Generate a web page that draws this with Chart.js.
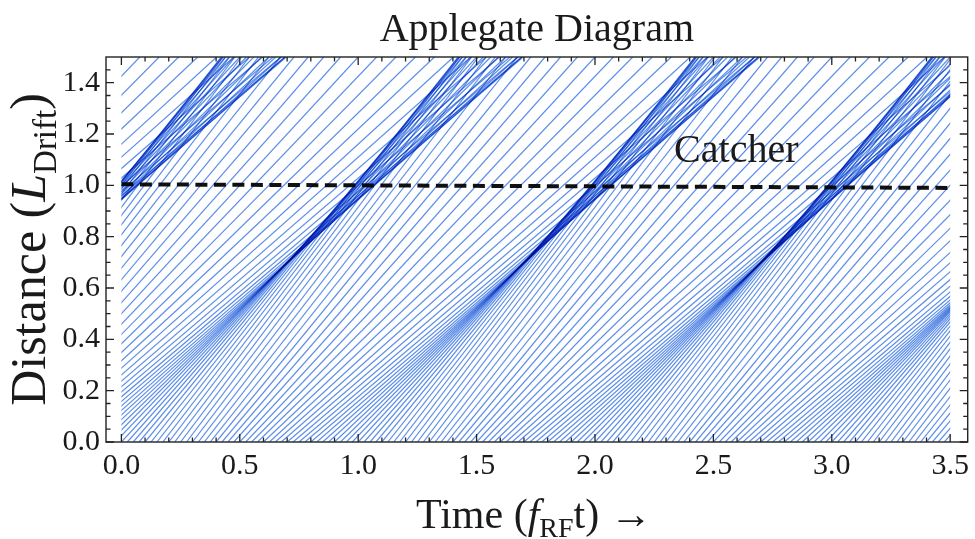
<!DOCTYPE html>
<html>
<head>
<meta charset="utf-8">
<title>Applegate Diagram</title>
<script src="https://cdn.jsdelivr.net/npm/chart.js@4.4.1/dist/chart.umd.min.js"></script>
<style>
    html, body { margin: 0; padding: 0; background: #fff; }
    #wrap { width: 975px; height: 539px; }
</style>
</head>
<body>
<div id="wrap"><canvas id="chart" width="975" height="539"></canvas></div>
<script>
// Launch phase of each electron inside one RF period (fraction of a cycle)
const launchPhase = [
    0.000, 0.025, 0.050, 0.075, 0.100, 0.125, 0.150, 0.175, 0.200, 0.225,
    0.250, 0.275, 0.300, 0.325, 0.350, 0.375, 0.400, 0.425, 0.450, 0.475,
    0.500, 0.525, 0.550, 0.575, 0.600, 0.625, 0.650, 0.675, 0.700, 0.725,
    0.750, 0.775, 0.800, 0.825, 0.850, 0.875, 0.900, 0.925, 0.950, 0.975
];
// Drift velocity after the buncher gap, in L_Drift per RF period
const driftVelocity = [
    1.000, 1.034, 1.068, 1.100, 1.129, 1.156, 1.178, 1.196, 1.209, 1.217,
    1.220, 1.217, 1.209, 1.196, 1.178, 1.156, 1.129, 1.100, 1.068, 1.034,
    1.000, 0.966, 0.932, 0.900, 0.871, 0.844, 0.822, 0.804, 0.791, 0.783,
    0.780, 0.783, 0.791, 0.804, 0.822, 0.844, 0.871, 0.900, 0.932, 0.966
];
// RF cycles whose electrons show up inside the time window
const rfCycles = [-2, -1, 0, 1, 2, 3];
const timeWindow = [0, 3.5];

// Catcher position (dashed line)
const catcherTimes = [0.0, 3.5];
const catcherHeights = [1.004, 0.990];

const xTickValues = [0, 0.5, 1.0, 1.5, 2.0, 2.5, 3.0, 3.5];
const yTickValues = [0, 0.2, 0.4, 0.6, 0.8, 1.0, 1.2, 1.4];
const xMinorStep = 0.1;
const yMinorStep = 0.05;

const serif = "'Liberation Serif', 'Times New Roman', serif";
const zTop = 1.5;

const datasets = [{
    label: 'Catcher',
    data: catcherTimes.map((t, i) => ({ x: t, y: catcherHeights[i] })),
    showLine: true,
    borderColor: '#111',
    borderWidth: 4,
    borderDash: [12, 6.5],
    pointRadius: 0,
    order: 0
}];

rfCycles.forEach(cycle => {
    launchPhase.forEach((phase, i) => {
        const t0 = cycle + phase;
        if (t0 > timeWindow[1]) return;
        const v = driftVelocity[i];
        datasets.push({
            data: [{ x: t0, y: 0 }, { x: t0 + zTop / v, y: zTop }],
            showLine: true,
            borderColor: 'rgb(92, 142, 232)',
            borderWidth: 1.2,
            pointRadius: 0,
            order: 1
        });
    });
});

// white paper, and overlapping trajectories darken each other
const blendPlugin = {
    id: 'blendPlugin',
    beforeDraw(chart) {
        const ctx = chart.ctx;
        ctx.save();
        ctx.fillStyle = '#fff';
        ctx.fillRect(0, 0, chart.width, chart.height);
        ctx.restore();
    },
    beforeDatasetsDraw(chart) {
        const { ctx, chartArea, scales } = chart;
        const left = scales.x.getPixelForValue(timeWindow[0]);
        const right = scales.x.getPixelForValue(timeWindow[1]);
        ctx.save();
        ctx.beginPath();
        ctx.rect(left, chartArea.top, right - left, chartArea.bottom - chartArea.top);
        ctx.clip();
        ctx.globalCompositeOperation = 'multiply';
    },
    afterDatasetsDraw(chart) {
        chart.ctx.restore();
    }
};

// Mathematica-like frame with inward ticks on all four sides
const framePlugin = {
    id: 'framePlugin',
    afterDraw(chart) {
        const { ctx, chartArea: a, scales: { x, y } } = chart;
        ctx.save();
        ctx.strokeStyle = '#222';
        ctx.lineWidth = 1.4;
        ctx.strokeRect(a.left, a.top, a.right - a.left, a.bottom - a.top);

        ctx.lineWidth = 1.3;
        ctx.beginPath();
        const nx = Math.round(xTickValues[xTickValues.length - 1] / xMinorStep);
        for (let i = 0; i <= nx; i++) {
            const v = i * xMinorStep;
            const len = i % 5 === 0 ? 8 : 4.5;
            const px = x.getPixelForValue(v);
            ctx.moveTo(px, a.bottom);
            ctx.lineTo(px, a.bottom - len);
            ctx.moveTo(px, a.top);
            ctx.lineTo(px, a.top + len);
        }
        const ny = Math.round(zTop / yMinorStep);
        for (let i = 0; i < ny; i++) {
            const v = i * yMinorStep;
            const len = i % 4 === 0 ? 8 : 4.5;
            const py = y.getPixelForValue(v);
            ctx.moveTo(a.left, py);
            ctx.lineTo(a.left + len, py);
            ctx.moveTo(a.right, py);
            ctx.lineTo(a.right - len, py);
        }
        ctx.stroke();
        ctx.restore();
    }
};

function fontFor(part, size) {
    const s = part.sub ? Math.round(size * 0.66) : size;
    return (part.italic ? 'italic ' : '') + s + 'px ' + serif;
}

function drawRichText(ctx, parts, size, cx, baseline) {
    let total = 0;
    parts.forEach(p => {
        ctx.font = fontFor(p, size);
        total += ctx.measureText(p.text).width;
    });
    let cursor = cx - total / 2;
    parts.forEach(p => {
        ctx.font = fontFor(p, size);
        ctx.fillText(p.text, cursor, baseline + (p.sub ? size * 0.22 : 0));
        cursor += ctx.measureText(p.text).width;
    });
}

const textPlugin = {
    id: 'textPlugin',
    afterDraw(chart) {
        const { ctx, chartArea: a, scales: { x, y } } = chart;
        const cx = (a.left + a.right) / 2;
        ctx.save();
        ctx.fillStyle = '#1a1a1a';
        ctx.textAlign = 'left';
        ctx.textBaseline = 'alphabetic';

        drawRichText(ctx, [{ text: 'Applegate Diagram' }], 40, cx, 41);

        drawRichText(ctx, [
            { text: 'Time (' },
            { text: 'f', italic: true },
            { text: 'RF', sub: true },
            { text: 't) \u2192' }
        ], 42, cx - 3, 528);

        ctx.save();
        ctx.translate(45, (a.top + a.bottom) / 2);
        ctx.rotate(-Math.PI / 2);
        drawRichText(ctx, [
            { text: 'Distance (' },
            { text: 'L', italic: true },
            { text: 'Drift', sub: true },
            { text: ')' }
        ], 50, 0, 0);
        ctx.restore();

        ctx.font = '40px ' + serif;
        ctx.fillText('Catcher', x.getPixelForValue(2.334), y.getPixelForValue(1.091));
        ctx.restore();
    }
};

const tickFont = { family: serif, size: 30 };

new Chart(document.getElementById('chart'), {
    type: 'scatter',
    data: { datasets: datasets },
    options: {
        responsive: false,
        animation: false,
        devicePixelRatio: 1,
        layout: { padding: { top: 57, right: 3, bottom: 0, left: 0 } },
        plugins: {
            legend: { display: false },
            tooltip: { enabled: false },
            title: { display: false }
        },
        scales: {
            x: {
                type: 'linear',
                min: -0.065,
                max: 3.574,
                afterBuildTicks: scale => { scale.ticks = xTickValues.map(v => ({ value: v })); },
                afterFit: scale => { scale.height = 97; },
                grid: { display: false, drawTicks: false },
                border: { display: false },
                ticks: {
                    font: tickFont,
                    color: '#1a1a1a',
                    padding: 6,
                    maxRotation: 0,
                    autoSkip: false,
                    callback: v => Number(v).toFixed(1)
                }
            },
            y: {
                type: 'linear',
                min: 0,
                max: zTop,
                afterBuildTicks: scale => { scale.ticks = yTickValues.map(v => ({ value: v })); },
                afterFit: scale => { scale.width = 106; },
                grid: { display: false, drawTicks: false },
                border: { display: false },
                ticks: {
                    font: tickFont,
                    color: '#1a1a1a',
                    padding: 6,
                    autoSkip: false,
                    callback: v => Number(v).toFixed(1)
                }
            }
        }
    },
    plugins: [blendPlugin, framePlugin, textPlugin]
});
</script>
</body>
</html>
